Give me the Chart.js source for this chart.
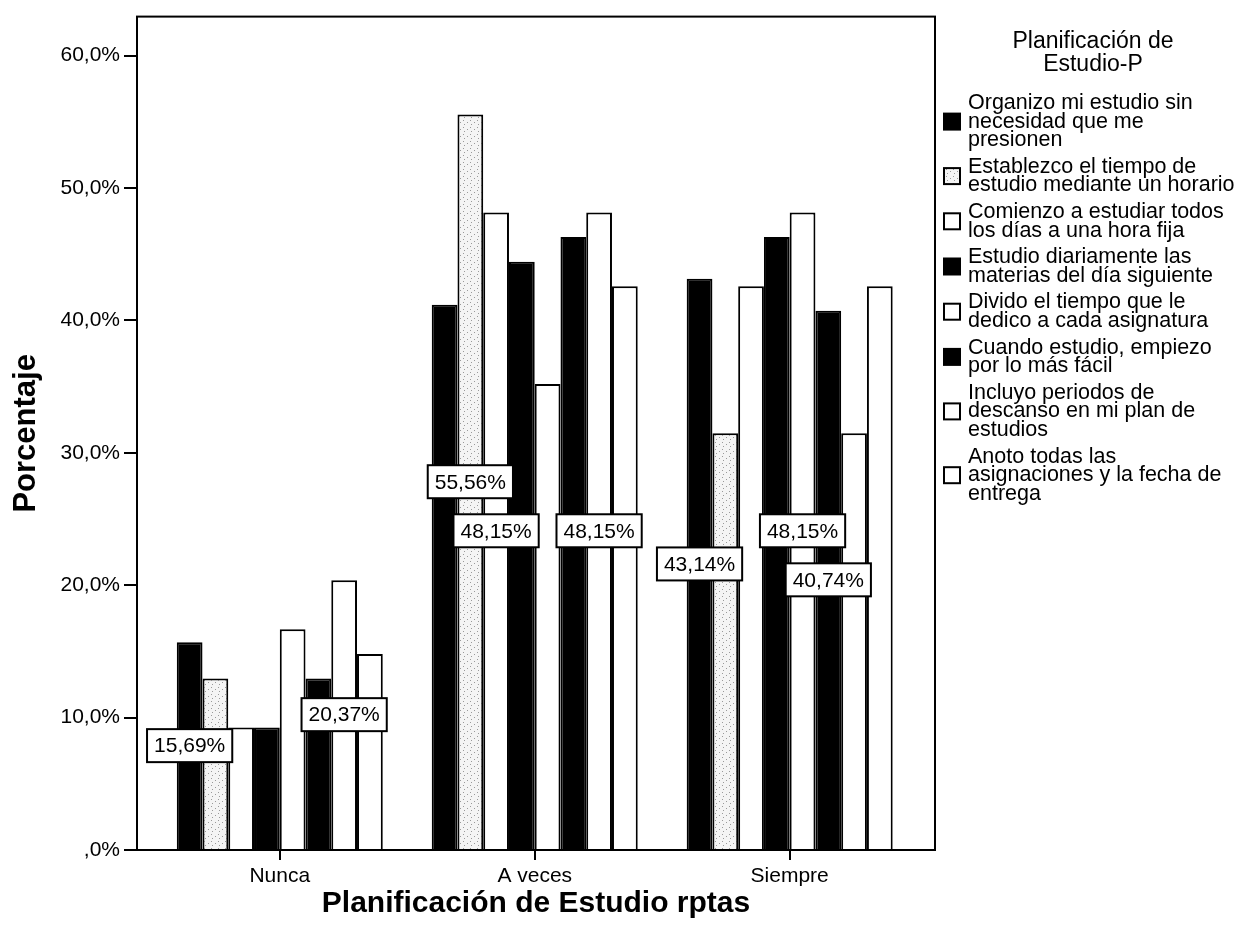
<!DOCTYPE html>
<html>
<head>
<meta charset="utf-8">
<script src="https://cdn.jsdelivr.net/npm/chart.js@4.4.1/dist/chart.umd.min.js"></script>
<style>
  html, body { margin: 0; padding: 0; background: #fff; }
  canvas { display: block; }
</style>
</head>
<body>
<canvas id="studyChart" width="1257" height="934"></canvas>
<script>
// categories on the x axis
const categories = ['Nunca', 'A veces', 'Siempre'];

// legend labels, already broken into lines as in the source
const seriesNames = [
    ['Organizo mi estudio sin', 'necesidad que me', 'presionen'],
    ['Establezco el tiempo de', 'estudio mediante un horario'],
    ['Comienzo a estudiar todos', 'los días a una hora fija'],
    ['Estudio diariamente las', 'materias del día siguiente'],
    ['Divido el tiempo que le', 'dedico a cada asignatura'],
    ['Cuando estudio, empiezo', 'por lo más fácil'],
    ['Incluyo periodos de', 'descanso en mi plan de', 'estudios'],
    ['Anoto todas las', 'asignaciones y la fecha de', 'entrega']
];

// percentages per series (Nunca, A veces, Siempre)
const organizo = [15.69, 41.18, 43.14];
const establezco = [12.96, 55.56, 31.48];
const comienzo = [9.26, 48.15, 42.59];
const diariamente = [9.26, 44.44, 46.30];
const divido = [16.67, 35.19, 48.15];
const facil = [12.96, 46.30, 40.74];
const descanso = [20.37, 48.15, 31.48];
const anoto = [14.81, 42.59, 42.59];

// which bars carry a value box: [series, category]
const shownLabels = [[0, 0], [6, 0], [1, 1], [2, 1], [6, 1], [0, 2], [4, 2], [5, 2]];

const yTickValues = [0, 10, 20, 30, 40, 50, 60];
const yTickLabels = [',0%', '10,0%', '20,0%', '30,0%', '40,0%', '50,0%', '60,0%'];

const FONT = 'Liberation Sans, Arial, Helvetica, sans-serif';
Chart.defaults.font.family = FONT;
Chart.defaults.color = '#000';

// light stipple like the scanned second series
function stipple() {
    const c = document.createElement('canvas');
    c.width = 7; c.height = 7;
    const g = c.getContext('2d');
    g.fillStyle = '#f4f4f4';
    g.fillRect(0, 0, 7, 7);
    g.fillStyle = '#9a9a9a';
    g.fillRect(1, 1, 1, 1);
    g.fillRect(5, 3, 1, 1);
    g.fillRect(2, 5, 1, 1);
    return g.createPattern(c, 'repeat');
}

const allValues = [organizo, establezco, comienzo, diariamente, divido, facil, descanso, anoto];
const fills = ['#000', stipple(), '#fff', '#000', '#fff', '#000', '#fff', '#fff'];

const datasets = allValues.map((vals, i) => ({
    label: seriesNames[i],
    data: vals.map((v, j) => ({ x: j, y: v })),
    backgroundColor: fills[i],
    borderColor: '#000',
    borderWidth: 2,
    borderSkipped: 'bottom',
    categoryPercentage: 0.808,
    barPercentage: 1.0
}));

const fmt = v => v.toFixed(2).replace('.', ',') + '%';

const framePlugin = {
    id: 'frame',
    afterDatasetsDraw(chart) {
        const { ctx, chartArea: a } = chart;
        ctx.save();
        ctx.strokeStyle = '#000';
        ctx.lineWidth = 2;
        ctx.strokeRect(a.left, a.top, a.right - a.left, a.bottom - a.top);
        ctx.restore();
    }
};

const valueBoxes = {
    id: 'valueBoxes',
    afterDatasetsDraw(chart) {
        const ctx = chart.ctx;
        ctx.save();
        ctx.font = '21px ' + FONT;
        ctx.textAlign = 'center';
        ctx.textBaseline = 'middle';
        shownLabels.forEach(([s, c]) => {
            const bar = chart.getDatasetMeta(s).data[c];
            const text = fmt(chart.data.datasets[s].data[c].y);
            const cy = (bar.y + bar.base) / 2;
            const w = ctx.measureText(text).width + 14;
            const h = 33;
            ctx.fillStyle = '#fff';
            ctx.fillRect(bar.x - w / 2, cy - h / 2, w, h);
            ctx.strokeStyle = '#000';
            ctx.lineWidth = 2;
            ctx.strokeRect(bar.x - w / 2, cy - h / 2, w, h);
            ctx.fillStyle = '#000';
            ctx.fillText(text, bar.x, cy + 1);
        });
        ctx.restore();
    }
};

const sideLegend = {
    id: 'sideLegend',
    afterDraw(chart) {
        const ctx = chart.ctx;
        const x0 = chart.chartArea.right;
        ctx.save();
        ctx.fillStyle = '#000';
        ctx.textBaseline = 'middle';
        ctx.textAlign = 'center';
        ctx.font = '23px ' + FONT;
        ctx.fillText('Planificación de', 1093, 42);
        ctx.fillText('Estudio-P', 1093, 65);

        ctx.textAlign = 'left';
        ctx.font = '21.5px ' + FONT;
        const lh = 18.6;
        let y = 103;
        chart.data.datasets.forEach(ds => {
            const lines = ds.label;
            const mid = y + (lines.length - 1) * lh / 2;
            ctx.fillStyle = ds.backgroundColor;
            ctx.fillRect(x0 + 9, mid - 8, 16, 16);
            ctx.strokeStyle = '#000';
            ctx.lineWidth = 2;
            ctx.strokeRect(x0 + 9, mid - 8, 16, 16);
            ctx.fillStyle = '#000';
            lines.forEach((ln, k) => ctx.fillText(ln, x0 + 33, y + k * lh));
            y += lines.length * lh + 8;
        });
        ctx.restore();
    }
};

new Chart(document.getElementById('studyChart'), {
    type: 'bar',
    data: { datasets: datasets },
    options: {
        responsive: false,
        animation: false,
        devicePixelRatio: 1,
        layout: { padding: { top: 14, right: 322, left: 0, bottom: 0 } },
        plugins: {
            legend: { display: false },
            tooltip: { enabled: false }
        },
        scales: {
            x: {
                type: 'linear',
                min: -0.56,
                max: 2.57,
                offset: false,
                afterBuildTicks: scale => { scale.ticks = categories.map((c, i) => ({ value: i })); },
                afterFit: scale => { scale.height = 84; },
                ticks: {
                    callback: v => categories[v],
                    font: { size: 21 },
                    padding: 4,
                    maxRotation: 0,
                    autoSkip: false
                },
                grid: { offset: false, drawOnChartArea: false, tickLength: 10, color: '#000', lineWidth: 2 },
                border: { color: '#000', width: 2 },
                title: {
                    display: true,
                    text: 'Planificación de Estudio rptas',
                    font: { size: 30, weight: 'bold' },
                    padding: { top: 0, bottom: 12 }
                }
            },
            y: {
                min: 0,
                max: 62.95,
                afterBuildTicks: scale => { scale.ticks = yTickValues.map(v => ({ value: v })); },
                afterFit: scale => { scale.width = 137; },
                ticks: {
                    callback: (v, i) => yTickLabels[i],
                    font: { size: 21 },
                    padding: 4
                },
                grid: { drawOnChartArea: false, tickLength: 13, color: '#000', lineWidth: 2 },
                border: { color: '#000', width: 2 },
                title: {
                    display: true,
                    text: 'Porcentaje',
                    font: { size: 31, weight: 'bold' },
                    padding: { top: 8, bottom: 0 }
                }
            }
        }
    },
    plugins: [framePlugin, valueBoxes, sideLegend]
});
</script>
</body>
</html>
